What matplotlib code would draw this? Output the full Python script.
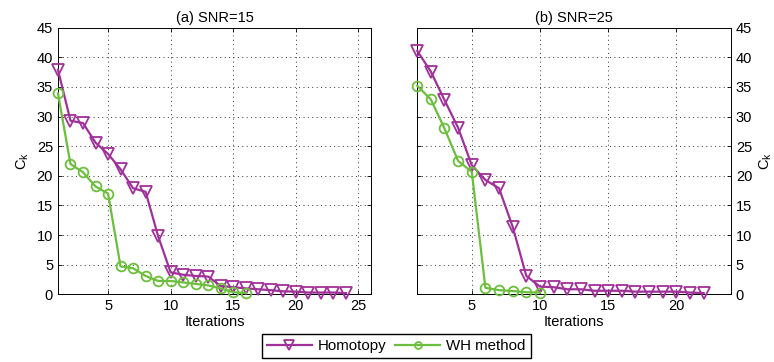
import matplotlib.pyplot as plt
import numpy as np

plt.rcParams['font.family'] = ['Liberation Sans', 'DejaVu Sans']
plt.rcParams['font.size'] = 10

# (a) SNR=15
homotopy_a = [37.9, 29.3, 28.9, 25.6, 23.7, 21.1, 17.9, 17.3, 9.8, 3.7, 3.3, 3.1,
              3.0, 1.4, 1.2, 1.0, 0.85, 0.7, 0.5, 0.45, 0.3, 0.3, 0.3, 0.2]
wh_a = [33.9, 22.0, 20.6, 18.2, 17.0, 4.7, 4.4, 3.1, 2.25, 2.25, 2.0, 1.75,
        1.5, 1.0, 0.35, 0.2]

# (b) SNR=25
homotopy_b = [41.1, 37.6, 32.8, 28.1, 21.8, 19.3, 17.9, 11.4, 3.1, 1.3, 1.2, 0.85,
              0.85, 0.6, 0.6, 0.6, 0.45, 0.45, 0.45, 0.45, 0.3, 0.2]
wh_b = [35.2, 32.9, 28.0, 22.5, 20.7, 1.1, 0.7, 0.55, 0.35, 0.3]

titles = ['(a) SNR=15', '(b) SNR=25']
xlims = [(1, 26), (1, 24)]
xticks = [[5, 10, 15, 20, 25], [5, 10, 15, 20]]

purple = '#a0309a'
green = '#6cbf3c'

fig = plt.figure(figsize=(7.74, 3.62), dpi=100)
ax1 = fig.add_axes([0.0749, 0.187, 0.4044, 0.7365])
ax2 = fig.add_axes([0.539, 0.187, 0.4054, 0.7365])

series = [(homotopy_a, wh_a), (homotopy_b, wh_b)]
for i, ax in enumerate([ax1, ax2]):
    hom, wh = series[i]
    ax.plot(np.arange(1, len(hom) + 1), hom, color=purple, lw=1.6,
            marker='v', ms=8.5, mfc='none', mew=1.3, clip_on=False, zorder=3)
    ax.plot(np.arange(1, len(wh) + 1), wh, color=green, lw=1.6,
            marker='o', ms=7, mfc='none', mew=1.3, clip_on=False, zorder=3)
    ax.set_xlim(*xlims[i])
    ax.set_ylim(0, 45)
    ax.set_xticks(xticks[i])
    ax.set_yticks(np.arange(0, 46, 5))
    ax.grid(True, linestyle=(0, (1, 3.5)), color='k', lw=0.7, alpha=0.8)
    ax.tick_params(direction='in', length=3, width=0.6, top=True, right=True,
                   labelsize=10.5)
    for s in ax.spines.values():
        s.set_linewidth(0.7)
    ax.set_title(titles[i], fontsize=10.5, pad=4)
    ax.set_xlabel('Iterations', labelpad=1, fontsize=10.5)

ax1.set_ylabel('C$_\\mathregular{k}$', labelpad=4, fontsize=10.5)
ax2.yaxis.tick_right()
ax2.tick_params(left=True, labelleft=False, labelright=True)
ax2.yaxis.set_label_position('right')
ax2.set_ylabel('C$_\\mathregular{k}$', labelpad=4, fontsize=10.5)

# legend handles with smaller markers, like the original
h1, = ax1.plot([], [], color=purple, lw=1.6, marker='v', ms=6.5, mfc='none',
               mew=1.3, label='Homotopy')
h2, = ax1.plot([], [], color=green, lw=1.6, marker='o', ms=5, mfc='none',
               mew=1.3, label='WH method')
fig.legend(handles=[h1, h2], loc='upper center', bbox_to_anchor=(0.512, 0.078),
           ncol=2, frameon=True, fancybox=False, edgecolor='k', fontsize=10.8,
           handlelength=3.0, columnspacing=0.6, handletextpad=0.4,
           borderpad=0.35, borderaxespad=0, framealpha=1)

fig.savefig('out.png', dpi=100)
